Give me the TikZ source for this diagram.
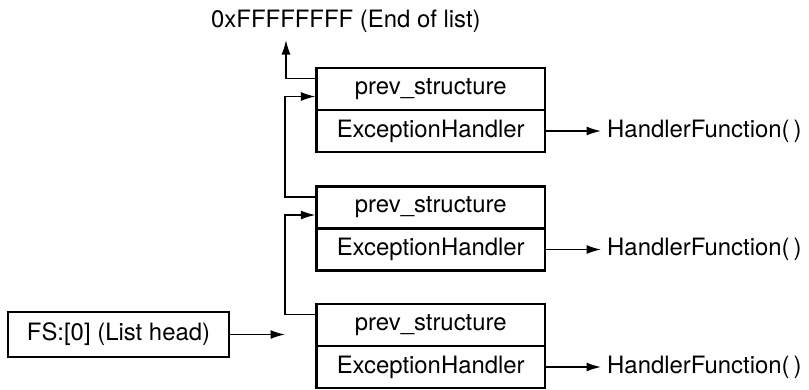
\documentclass[tikz,border=0pt]{standalone}
\usepackage{fontspec}
\setmainfont{TeX Gyre Heros}
\usetikzlibrary{arrows.meta}

\begin{document}
\begin{tikzpicture}
    \tikzset{every node/.style = {font=\fontsize{13.6}{16}\selectfont}}
    \tikzset{row/.style = {shape=rectangle,draw,line width=1.3pt,minimum width=4.57cm,minimum height=0.84cm,inner sep=0pt}}
    \tikzset{head/.style = {shape=rectangle,draw,line width=1.3pt,minimum width=4.42cm,minimum height=0.9cm}}
    \tikzset{txt/.style = {shape=rectangle,draw=none}}
    \tikzset{link/.style = {line width=0.8pt,-{Latex[length=2.9mm,width=1.8mm]}}}

    \useasboundingbox (0,0) rectangle (16.18,-7.78);

    % registration records
    \node[row] (p1) at (8.615,-1.78) {prev\_structure};
    \node[row] (h1) at (8.615,-2.62) {ExceptionHandler};
    \node[row] (p2) at (8.615,-4.15) {prev\_structure};
    \node[row] (h2) at (8.615,-4.99) {ExceptionHandler};
    \node[row] (p3) at (8.615,-6.50) {prev\_structure};
    \node[row] (h3) at (8.615,-7.34) {ExceptionHandler};

    % list head and end marker
    \node[head] (fs) at (2.37,-6.69) {FS:[0] (List head)};
    \node[txt,anchor=base west] (endlist) at (4.10,-0.55) {0xFFFFFFFF (End of list)};
    \coordinate (top) at (5.72,-0.80);
    \coordinate (tail) at (5.70,-6.69);

    % handlers
    \node[txt,anchor=west] (f1) at (12.02,-2.62) {HandlerFunction(\,)};
    \node[txt,anchor=west] (f2) at (12.02,-4.99) {HandlerFunction(\,)};
    \node[txt,anchor=west] (f3) at (12.02,-7.34) {HandlerFunction(\,)};

    %edges
    \draw[link] ([yshift=2.1mm]p1.west) -| (top);
    \draw[link] ([yshift=2.1mm]p2.west) -- ++(-6.1mm,0) |- ([yshift=-1.5mm]p1.west);
    \draw[link] ([yshift=2.1mm]p3.west) -- ++(-6.1mm,0) |- ([yshift=-1.5mm]p2.west);
    \draw[link] (fs.east) -- (tail);
    \draw[link] (h1.east) -- (f1.west);
    \draw[link] (h2.east) -- (f2.west);
    \draw[link] (h3.east) -- (f3.west);
\end{tikzpicture}
\end{document}
